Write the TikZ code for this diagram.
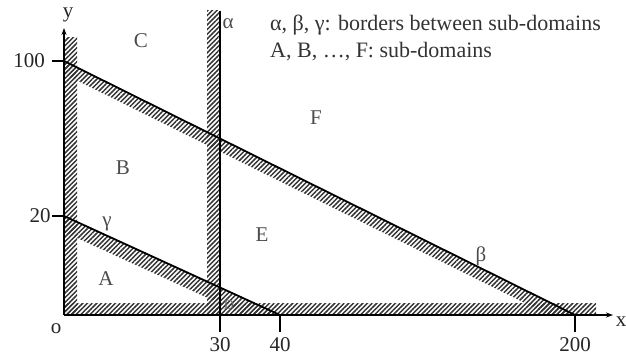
\documentclass[tikz,border=0pt]{standalone}
\usepackage{fontspec}
\setmainfont{Liberation Serif}
\usepackage{tikz}
\usetikzlibrary{arrows.meta, patterns.meta}

\begin{document}
\begin{tikzpicture}[
  x=1pt, y=-1pt,
  axis/.style={line width=1.6pt, -{Stealth[length=7pt, width=5pt]}},
  border/.style={line width=1.8pt},
  tick/.style={line width=1.6pt},
  hatch/.style={pattern={Lines[angle=45, distance=3.3pt, line width=1.5pt]}, pattern color=black!80},
  lbl/.style={font=\fontsize{21}{24}\selectfont, text=black!85, inner sep=0pt},
  region/.style={font=\fontsize{21}{24}\selectfont, text=black!70, inner sep=0pt},
  legend/.style={font=\fontsize{22}{25}\selectfont, text=black!80, inner sep=0pt, anchor=west}
]
\useasboundingbox (0,0) rectangle (626,358);

% Punkte
\coordinate (O) at (64,315);
\coordinate (Yend) at (64,28);
\coordinate (Xend) at (613,315);
\coordinate (B100) at (64,61);
\coordinate (B200) at (575,315);
\coordinate (G20) at (64,216);
\coordinate (G40) at (280,315);
\coordinate (Atop) at (220,11);
\coordinate (Abot) at (220,332);

% Schraffierte Raender der Teilgebiete
\fill[hatch] (64,38) rectangle (77,315);
\fill[hatch] (64,303) rectangle (596,315);
\fill[hatch] (207,11) rectangle (220,315);
\fill[hatch] (B100) -- (B200) -- (549,315) -- (64,74) -- cycle;
\fill[hatch] (G20) -- (G40) -- (245,315) -- (64,232) -- cycle;

% Achsen
\draw[axis] (O) -- (Yend);
\draw[axis] (O) -- (Xend);

% Grenzen
\draw[border] (B100) -- (B200);
\draw[border] (G20) -- (G40);
\draw[border] (Atop) -- (Abot);

% Ticks
\draw[tick] (B100) -- ++(-12,0);
\draw[tick] (G20) -- ++(-12,0);
\draw[tick] (G40) -- ++(0,17);
\draw[tick] (B200) -- ++(0,17);

% Beschriftung Achsen
\node[lbl] (ly) at (68,15) {y};
\node[lbl] (lx) at (621,322) {x};
\node[lbl] (lo) at (56,329) {o};
\node[lbl] (l100) at (29,61) {100};
\node[lbl] (l20) at (40,216) {20};
\node[lbl] (l30) at (220,345) {30};
\node[lbl] (l40) at (280,345) {40};
\node[lbl] (l200) at (575,345) {200};

% Teilgebiete
\node[region] (rA) at (106,279) {A};
\node[region] (rB) at (123,168) {B};
\node[region] (rC) at (141,41) {C};
\node[region, font=\fontsize{14}{16}\selectfont, text=black!60] (rD) at (229,305) {D};
\node[region] (rE) at (262,235) {E};
\node[region] (rF) at (316,118) {F};

% Grenzen benennen
\node[region] (na) at (228,24) {α};
\node[region] (nb) at (481,256) {β};
\node[region] (ng) at (107,224) {γ};

% Legende
\node[legend] (leg1) at (270,25) {α, β, γ: borders between sub-domains};
\node[legend] (leg2) at (270,52) {A, B, …, F: sub-domains};

\end{tikzpicture}
\end{document}
